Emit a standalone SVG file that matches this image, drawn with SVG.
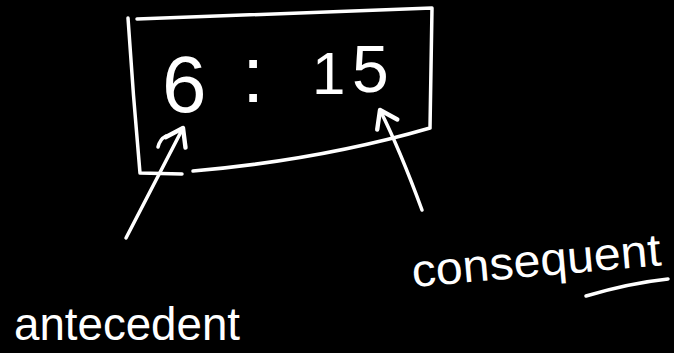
<svg xmlns="http://www.w3.org/2000/svg" width="674" height="353" viewBox="0 0 674 353">
<style>
.ink{fill:none;stroke:#fff;stroke-width:3.5;stroke-linecap:round;stroke-linejoin:round}
.hand{fill:#fff;font-family:"Liberation Sans","DejaVu Sans",sans-serif}
</style>
<defs>
<marker id="head" markerUnits="userSpaceOnUse" markerWidth="30" markerHeight="30" refX="0" refY="0" viewBox="-16 -12 20 24" orient="auto">
<path d="M-13,-9 L0,0 L-13,9" fill="none" stroke="#fff" stroke-width="3.5" stroke-linecap="round" stroke-linejoin="round"/>
</marker>
</defs>
<rect width="674" height="353" fill="#000"/>
<g id="ratio-box">
<path class="ink" d="M137,19 L432,8 M128,18 Q133,95 140,173 L182,174 M193,171 Q320,160 430,128 M432,8 Q431,70 430,128"/>
<text class="hand" font-size="80" y="112"><tspan x="162">6</tspan><tspan x="242" y="102">:</tspan><tspan x="312" y="94" font-size="60">1</tspan><tspan x="352" y="92" font-size="66">5</tspan></text>
</g>
<g id="connectors">
<path class="ink" d="M126,238 L183,128" marker-end="url(#head)"/>
<path class="ink" d="M158,147 Q160,139 166,136"/>
<path class="ink" d="M422,210 Q400,150 380,110" marker-end="url(#head)"/>
</g>
<g id="antecedent-label">
<text class="hand" x="14" y="340" font-size="46" textLength="226" lengthAdjust="spacingAndGlyphs">antecedent</text>
</g>
<g id="consequent-label">
<text class="hand" x="413" y="287" font-size="46" textLength="250" lengthAdjust="spacingAndGlyphs" transform="rotate(-5 413 287)">consequent</text>
<path class="ink" d="M586,296 Q630,283 668,279"/>
</g>
</svg>
